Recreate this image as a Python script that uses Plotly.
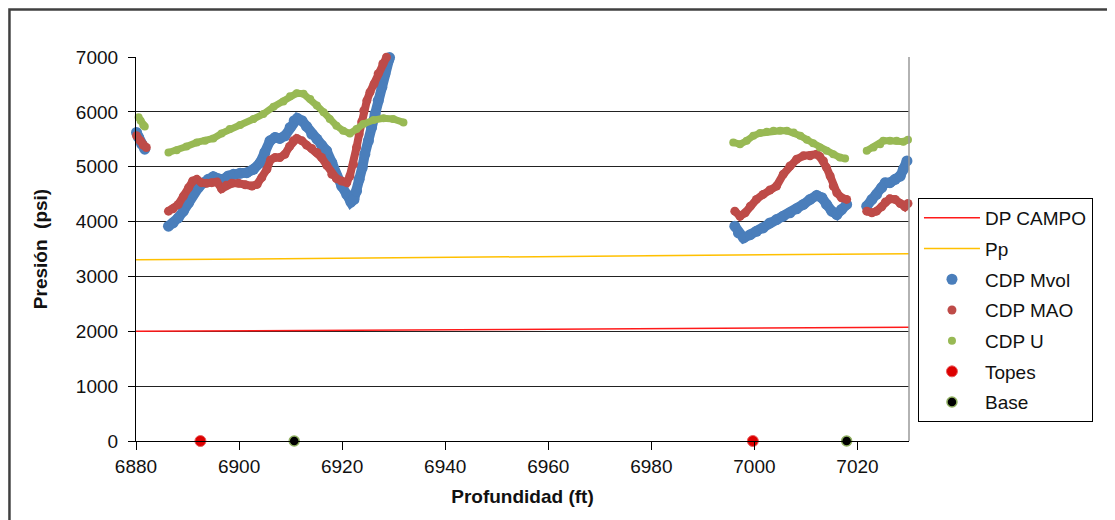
import plotly.graph_objects as go

# ---------------- data ----------------
dp_campo_depth = [6880, 7030]
dp_campo_psi = [2000, 2072]

pp_depth = [6880, 7030]
pp_psi = [3302, 3415]

mvol_depth = [6880.1, 6880.5, 6881.1, 6881.7, None,
              6886.3, 6887.2, 6888.2, 6889.2, 6890.2, 6891.1, 6892.1, 6893.1, 6894.0, 6895.0,
              6896.0, 6896.9, 6897.9, 6898.9, 6900.2, 6901.5, 6902.8, 6904.1, 6905.0, 6906.0,
              6907.0, 6907.9, 6908.9, 6909.9, 6910.7, 6911.3, 6912.2, 6913.1, 6914.1, 6915.1,
              6916.0, 6917.0, 6918.0, 6918.9, 6919.9, 6920.9, 6921.7, 6922.3, 6922.8, 6923.3,
              6923.9, 6924.4, 6925.1, 6925.7, 6926.4, 6927.0, 6927.7, 6928.3, 6929.0, 6929.2, None,
              6996.2, 6996.9, 6997.9, 6999.2, 7000.4, 7001.7, 7003.0, 7004.3, 7005.6, 7006.9,
              7008.2, 7009.5, 7010.8, 7012.1, 7013.1, 7014.0, 7015.0, 7016.0, 7016.9, 7017.9, None,
              7021.8, 7022.8, 7023.7, 7024.7, 7025.4, 7026.3, 7027.3, 7028.3, 7028.9, 7029.6]
mvol_psi = [5625, 5534, 5411, 5320, None,
            3915, 3976, 4068, 4190, 4342, 4526, 4617, 4709, 4770, 4819,
            4782, 4770, 4831, 4862, 4880, 4892, 4953, 5075, 5259, 5472,
            5534, 5515, 5564, 5717, 5839, 5882, 5839, 5735, 5595, 5503,
            5393, 5289, 5075, 4831, 4648, 4495, 4355, 4404, 4556, 4770,
            4984, 5228, 5472, 5717, 5961, 6205, 6450, 6694, 6939, 6990, None,
            3915, 3793, 3701, 3762, 3823, 3884, 3976, 4037, 4098, 4159,
            4233, 4312, 4404, 4477, 4434, 4312, 4190, 4129, 4220, 4312, None,
            4281, 4404, 4495, 4617, 4709, 4709, 4770, 4831, 4953, 5106]

mao_depth = [6880.1, 6880.8, 6881.4, 6882.0, None,
             6886.3, 6887.2, 6888.2, 6889.2, 6890.2, 6891.0, 6891.8, 6892.7, 6893.7, 6894.7,
             6895.7, 6896.6, 6897.5, 6898.6, 6899.9, 6901.2, 6902.5, 6903.5, 6904.4, 6905.4,
             6906.1, 6907.0, 6907.9, 6908.9, 6909.8, 6910.5, 6911.2, 6912.2, 6913.1, 6914.1,
             6915.1, 6916.0, 6917.0, 6918.0, 6918.9, 6919.9, 6920.9, 6921.5, 6922.2, 6922.8,
             6923.3, 6923.8, 6924.2, 6924.8, 6925.4, 6926.2, 6927.0, 6927.9, 6928.6, None,
             6996.2, 6997.2, 6998.2, 6999.2, 7000.4, 7001.7, 7003.0, 7004.3, 7005.6, 7006.9,
             7008.2, 7009.5, 7010.8, 7012.1, 7012.7, 7013.4, 7014.0, 7014.7, 7015.3, 7016.0,
             7016.9, 7017.9, None,
             7021.8, 7022.8, 7023.7, 7024.7, 7025.4, 7026.3, 7027.3, 7028.3, 7029.2, 7029.8]
mao_psi = [5564, 5473, 5393, 5350, None,
           4190, 4233, 4312, 4464, 4617, 4739, 4770, 4709, 4697, 4709,
           4721, 4599, 4660, 4697, 4697, 4672, 4648, 4678, 4801, 4953,
           5124, 5167, 5167, 5228, 5369, 5472, 5515, 5472, 5393, 5332,
           5259, 5167, 5027, 4862, 4782, 4739, 4709, 4831, 5045, 5350,
           5595, 5821, 6022, 6205, 6358, 6511, 6694, 6877, 6995, None,
           4190, 4098, 4159, 4281, 4404, 4495, 4575, 4648, 4862, 5014,
           5137, 5198, 5198, 5228, 5185, 5106, 4984, 4831, 4648, 4526,
           4434, 4404, None,
           4190, 4159, 4190, 4269, 4355, 4416, 4404, 4330, 4269, 4330]

u_depth = [6880.5, 6880.9, 6881.4, 6881.7, None,
           6886.3, 6887.9, 6889.8, 6891.8, 6893.4, 6895.0, 6896.6, 6898.2, 6900.2, 6902.8,
           6904.7, 6906.7, 6908.6, 6909.9, 6911.2, 6912.5, 6913.8, 6915.1, 6916.4, 6917.6,
           6918.9, 6920.2, 6921.5, 6922.8, 6924.1, 6926.1, 6928.0, 6929.9, 6931.9, None,
           6995.9, 6997.2, 6998.5, 6999.8, 7001.1, 7002.4, 7003.7, 7005.0, 7006.3, 7007.6,
           7008.9, 7010.2, 7011.4, 7012.7, 7014.0, 7015.3, 7016.6, 7017.6, None,
           7021.8, 7023.1, 7024.4, 7025.0, 7026.3, 7027.6, 7028.9, 7029.8]
u_psi = [5900, 5839, 5760, 5735, None,
         5259, 5301, 5369, 5442, 5472, 5515, 5607, 5686, 5760, 5870,
         5961, 6095, 6187, 6285, 6340, 6328, 6236, 6114, 5992, 5870,
         5747, 5656, 5607, 5686, 5778, 5851, 5882, 5870, 5808, None,
         5442, 5411, 5472, 5564, 5613, 5637, 5656, 5656, 5656, 5625,
         5564, 5491, 5430, 5350, 5289, 5228, 5167, 5149, None,
         5289, 5350, 5411, 5472, 5472, 5472, 5454, 5491]

topes_depth = [6892.5, 6999.7]
topes_psi = [0, 0]
base_depth = [6910.7, 7017.9]
base_psi = [0, 0]

x_ticks = [6880, 6900, 6920, 6940, 6960, 6980, 7000, 7020]
y_ticks = [0, 1000, 2000, 3000, 4000, 5000, 6000, 7000]

# ---------------- styling ----------------
FONT = "Liberation Sans, Arial, sans-serif"
C_BLUE = "#4A7EBB"
C_RED = "#BE4B48"
C_GREEN = "#98B954"

fig = go.Figure()

fig.add_trace(go.Scatter(x=dp_campo_depth, y=dp_campo_psi, mode="lines", name="DP CAMPO",
                         line=dict(color="#FF1A1A", width=1.5), legendgroup="g1"))
fig.add_trace(go.Scatter(x=pp_depth, y=pp_psi, mode="lines", name="Pp",
                         line=dict(color="#FFC000", width=1.5), legendgroup="g2"))

series = [
    ("CDP Mvol", mvol_depth, mvol_psi, C_BLUE, 11, "g3"),
    ("CDP MAO", mao_depth, mao_psi, C_RED, 9, "g4"),
    ("CDP U", u_depth, u_psi, C_GREEN, 8, "g5"),
]
for name, xs, ys, col, size, grp in series:
    fig.add_trace(go.Scatter(x=xs, y=ys, mode="lines", showlegend=False, hoverinfo="skip",
                             line=dict(color=col, width=size - 1), connectgaps=False,
                             legendgroup=grp, cliponaxis=False))
    fig.add_trace(go.Scatter(x=xs, y=ys, mode="markers", name=name, legendgroup=grp,
                             marker=dict(color=col, size=size, line=dict(width=0)),
                             cliponaxis=False))

fig.add_trace(go.Scatter(x=topes_depth, y=topes_psi, mode="markers", name="Topes",
                         marker=dict(color="#DD0000", size=11, line=dict(color="#E86060", width=1)),
                         cliponaxis=False, legendgroup="g6"))
fig.add_trace(go.Scatter(x=base_depth, y=base_psi, mode="markers", name="Base",
                         marker=dict(color="#000000", size=10, line=dict(color="#8FAF60", width=1.5)),
                         cliponaxis=False, legendgroup="g7"))

# outer chart border
fig.add_shape(type="rect", xref="paper", yref="paper",
              x0=-0.1637, x1=1.4, y0=-0.3, y1=1.1237,
              line=dict(color="#404040", width=2.5), fillcolor="rgba(0,0,0,0)", layer="below")
# right border of plot area
fig.add_shape(type="line", xref="paper", yref="paper", x0=1, x1=1, y0=0, y1=1,
              line=dict(color="#9A9A9A", width=1.5))

fig.update_layout(
    width=1115, height=520,
    margin=dict(l=128, r=214, t=49, b=87),
    paper_bgcolor="white", plot_bgcolor="white",
    font=dict(family=FONT, size=19, color="#111111"),
    showlegend=True,
    legend=dict(x=1.0116, y=0.6328, xanchor="left", yanchor="top",
                bordercolor="#000000", borderwidth=1, bgcolor="white",
                font=dict(family=FONT, size=19, color="#111111"),
                tracegroupgap=3, itemwidth=56, traceorder="grouped"),
    xaxis=dict(range=[6880, 7030], tickvals=x_ticks, ticktext=[str(v) for v in x_ticks],
               showgrid=False, zeroline=False, showline=True, linecolor="#000000", linewidth=1.2,
               ticks="outside", ticklen=8, tickcolor="#000000", ticklabelstandoff=0,
               title=dict(text="<b>Profundidad (ft)</b>", font=dict(family=FONT, size=19), standoff=13)),
    yaxis=dict(range=[0, 7000], tickvals=y_ticks, ticktext=[str(v) for v in y_ticks],
               showgrid=True, gridcolor="#222222", gridwidth=1, zeroline=False,
               showline=True, linecolor="#000000", linewidth=1.2,
               ticks="outside", ticklen=7, tickcolor="#000000", ticklabelstandoff=6,
               title=dict(text="<b>Presión  (psi)</b>", font=dict(family=FONT, size=19), standoff=23)),
)

fig.write_html("out.html")
